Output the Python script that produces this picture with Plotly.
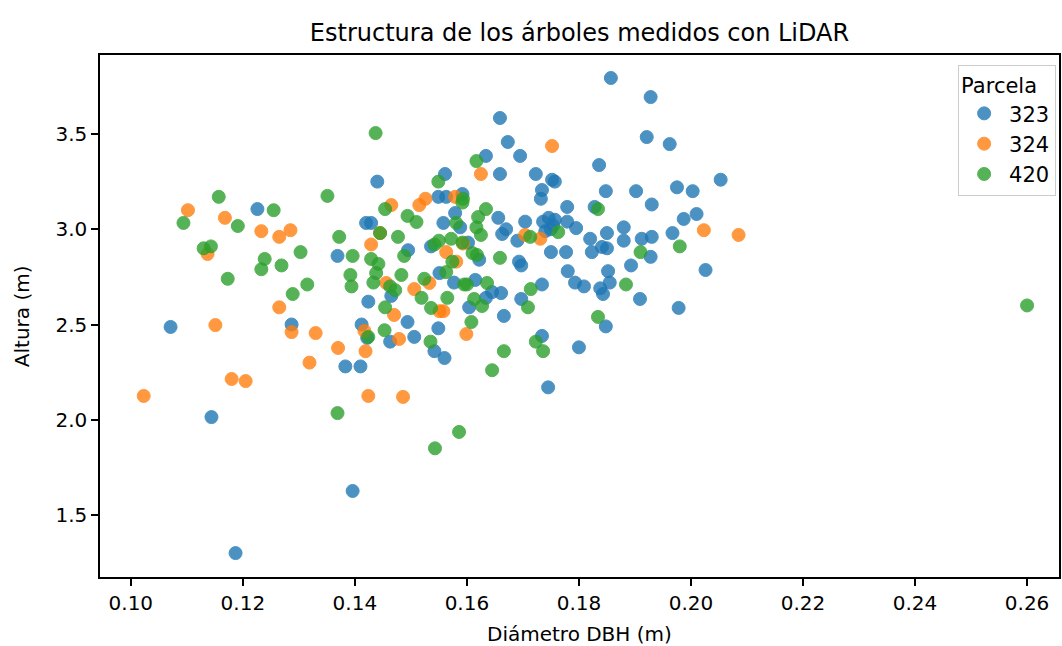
import plotly.graph_objects as go

# Parcela 323
x_323 = [0.1071, 0.1226, 0.1287, 0.1144, 0.1187, 0.1396, 0.1440, 0.1561, 0.1549, 0.1563,
         0.1420, 0.1429, 0.1558, 0.1495, 0.1536, 0.1369, 0.1465, 0.1551, 0.1424, 0.1494,
         0.1412, 0.1422, 0.1463, 0.1506, 0.1549, 0.1542, 0.1560, 0.1383, 0.1410, 0.1659,
         0.1673, 0.1634, 0.1695, 0.1659, 0.1723, 0.1752, 0.1757, 0.1734, 0.1836, 0.1592,
         0.1732, 0.1779, 0.1828, 0.1579, 0.1588, 0.1656, 0.1670, 0.1663, 0.1704, 0.1690,
         0.1736, 0.1746, 0.1757, 0.1754, 0.1750, 0.1740, 0.1779, 0.1795, 0.1820, 0.1823,
         0.1750, 0.1777, 0.1693, 0.1697, 0.1780, 0.1793, 0.1809, 0.1838, 0.1734, 0.1697,
         0.1666, 0.1661, 0.1645, 0.1615, 0.1577, 0.1634, 0.1604, 0.1622, 0.1602, 0.1734,
         0.1800, 0.1745, 0.1857, 0.1928, 0.1921, 0.1962, 0.1848, 0.1902, 0.1975, 0.2003,
         0.2053, 0.1930, 0.2010, 0.1987, 0.1967, 0.1880, 0.1850, 0.1880, 0.1912, 0.1930,
         0.1841, 0.1850, 0.1928, 0.1893, 0.2026, 0.1852, 0.1855, 0.1843, 0.1909, 0.1978,
         0.1848]
y_323 = [2.487, 3.106, 2.500, 2.014, 1.300, 1.626, 3.250, 3.290, 3.170, 3.170,
         3.033, 3.033, 3.033, 2.890, 2.910, 2.860, 2.650, 2.770, 2.620, 2.513,
         2.500, 2.430, 2.410, 2.435, 2.480, 2.360, 2.324, 2.280, 2.280, 3.584,
         3.458, 3.385, 3.385, 3.290, 3.290, 3.260, 3.250, 3.206, 3.337, 3.185,
         3.160, 3.117, 3.117, 3.085, 3.010, 3.060, 3.000, 2.975, 3.040, 2.940,
         3.040, 3.060, 3.050, 3.020, 3.000, 2.990, 3.040, 3.006, 2.950, 2.880,
         2.880, 2.880, 2.830, 2.810, 2.780, 2.720, 2.700, 2.690, 2.710, 2.634,
         2.545, 2.665, 2.670, 2.734, 2.720, 2.640, 2.590, 2.840, 2.930, 2.440,
         2.380, 2.170, 3.794, 3.694, 3.484, 3.447, 3.200, 3.200, 3.220, 3.200,
         3.260, 3.130, 3.080, 3.054, 2.980, 3.010, 2.980, 2.940, 2.950, 2.960,
         2.907, 2.900, 2.855, 2.810, 2.786, 2.780, 2.720, 2.660, 2.634, 2.587,
         2.490]

# Parcela 324
x_324 = [0.1102, 0.1168, 0.1233, 0.1265, 0.1285, 0.1137, 0.1265, 0.1151, 0.1287, 0.1330,
         0.1370, 0.1319, 0.1180, 0.1205, 0.1023, 0.1465, 0.1526, 0.1515, 0.1445, 0.1429,
         0.1456, 0.1506, 0.1533, 0.1558, 0.1563, 0.1470, 0.1417, 0.1479, 0.1419, 0.1424,
         0.1486, 0.1752, 0.1625, 0.1579, 0.1704, 0.1731, 0.1599, 0.1581, 0.1593, 0.2023,
         0.2085, 0.1551]
y_324 = [3.100, 3.060, 2.990, 2.960, 2.995, 2.870, 2.590, 2.497, 2.460, 2.455,
         2.377, 2.300, 2.214, 2.203, 2.125, 3.127, 3.160, 3.127, 2.980, 2.920,
         2.718, 2.686, 2.718, 2.570, 2.880, 2.550, 2.466, 2.424, 2.360, 2.125,
         2.120, 3.437, 3.290, 3.170, 2.970, 2.950, 2.450, 2.830, 2.925, 2.995,
         2.970, 2.570]

# Parcela 420
x_420 = [0.1157, 0.1255, 0.1094, 0.1191, 0.1303, 0.1130, 0.1143, 0.1239, 0.1233, 0.1269,
         0.1173, 0.1289, 0.1369, 0.1437, 0.1351, 0.1549, 0.1454, 0.1494, 0.1510, 0.1445,
         0.1477, 0.1372, 0.1542, 0.1550, 0.1396, 0.1429, 0.1442, 0.1438, 0.1392, 0.1394,
         0.1433, 0.1315, 0.1483, 0.1488, 0.1463, 0.1472, 0.1524, 0.1519, 0.1536, 0.1565,
         0.1563, 0.1454, 0.1424, 0.1453, 0.1535, 0.1543, 0.1586, 0.1617, 0.1593, 0.1834,
         0.1634, 0.1592, 0.1620, 0.1581, 0.1617, 0.1625, 0.1713, 0.1763, 0.1659, 0.1714,
         0.1709, 0.1608, 0.1636, 0.1595, 0.1600, 0.1613, 0.1627, 0.1834, 0.1574, 0.1610,
         0.1618, 0.1592, 0.1572, 0.1723, 0.1736, 0.1666, 0.1645, 0.1910, 0.1980, 0.1884,
         0.2600]
y_420 = [3.170, 3.100, 3.033, 3.017, 2.880, 2.900, 2.910, 2.844, 2.790, 2.810,
         2.740, 2.660, 2.035, 3.505, 3.175, 3.250, 3.106, 3.070, 3.038, 2.980,
         2.960, 2.960, 2.920, 2.940, 2.860, 2.844, 2.818, 2.770, 2.760, 2.700,
         2.720, 2.710, 2.760, 2.860, 2.700, 2.680, 2.740, 2.640, 2.587, 2.640,
         2.775, 2.590, 2.435, 2.470, 2.410, 1.850, 1.936, 3.358, 3.160, 3.106,
         3.106, 3.140, 3.064, 3.033, 3.010, 2.970, 2.960, 2.985, 2.850, 2.686,
         2.590, 2.513, 2.718, 2.710, 2.710, 2.634, 2.597, 2.540, 2.830, 2.875,
         2.865, 2.930, 2.950, 2.410, 2.360, 2.360, 2.260, 2.880, 2.910, 2.710,
         2.600]

series = [("323", x_323, y_323, "#1f77b4"),
          ("324", x_324, y_324, "#ff7f0e"),
          ("420", x_420, y_420, "#2ca02c")]

x_ticks = [0.10, 0.12, 0.14, 0.16, 0.18, 0.20, 0.22, 0.24, 0.26]
y_ticks = [1.5, 2.0, 2.5, 3.0, 3.5]

FONT = "DejaVu Sans"

fig = go.Figure()
for name, xs, ys, col in series:
    fig.add_trace(go.Scatter(
        x=xs, y=ys, mode="markers", name=name,
        marker=dict(size=13, color=col, opacity=0.8,
                    line=dict(width=1, color=col)),
    ))

axis_common = dict(showline=True, mirror=True, linecolor="black", linewidth=1.5,
                   ticks="outside", ticklen=7, tickwidth=1.5, tickcolor="black",
                   showgrid=False, zeroline=False,
                   tickfont=dict(family=FONT, size=20, color="black"))

fig.update_layout(
    width=1062, height=646,
    margin=dict(l=100, r=1, t=55, b=69),
    paper_bgcolor="white", plot_bgcolor="white",
    font=dict(family=FONT, color="black"),
    title=dict(text="Estructura de los árboles medidos con LiDAR",
               x=0.5, xref="paper", y=1 - 33 / 646, yref="container",
               xanchor="center", yanchor="middle",
               font=dict(family=FONT, size=24, color="black")),
    xaxis=dict(range=[0.0945, 0.2657], tickvals=x_ticks, tickformat=".2f", **axis_common),
    yaxis=dict(range=[1.1745, 3.9147], tickvals=y_ticks, tickformat=".1f", **axis_common),
    legend=dict(x=0.997, y=0.981, xanchor="right", yanchor="top",
                bgcolor="rgba(255,255,255,0.8)", bordercolor="#cccccc", borderwidth=1,
                font=dict(family=FONT, size=21, color="black"),
                itemwidth=40,
                title=dict(text="Parcela", side="top",
                           font=dict(family=FONT, size=21, color="black"))),
    annotations=[
        dict(text="Diámetro DBH (m)", x=0.5, xref="paper", y=-57 / 522, yref="paper",
             xanchor="center", yanchor="middle", showarrow=False,
             font=dict(family=FONT, size=20, color="black")),
        dict(text="Altura (m)", x=-78 / 961, xref="paper", y=0.5, yref="paper",
             xanchor="center", yanchor="middle", showarrow=False, textangle=-90,
             font=dict(family=FONT, size=20, color="black")),
    ],
)

fig.write_html("out.html", config={"displayModeBar": False},
               post_script="document.body.style.margin='0';document.body.style.overflow='hidden';")
